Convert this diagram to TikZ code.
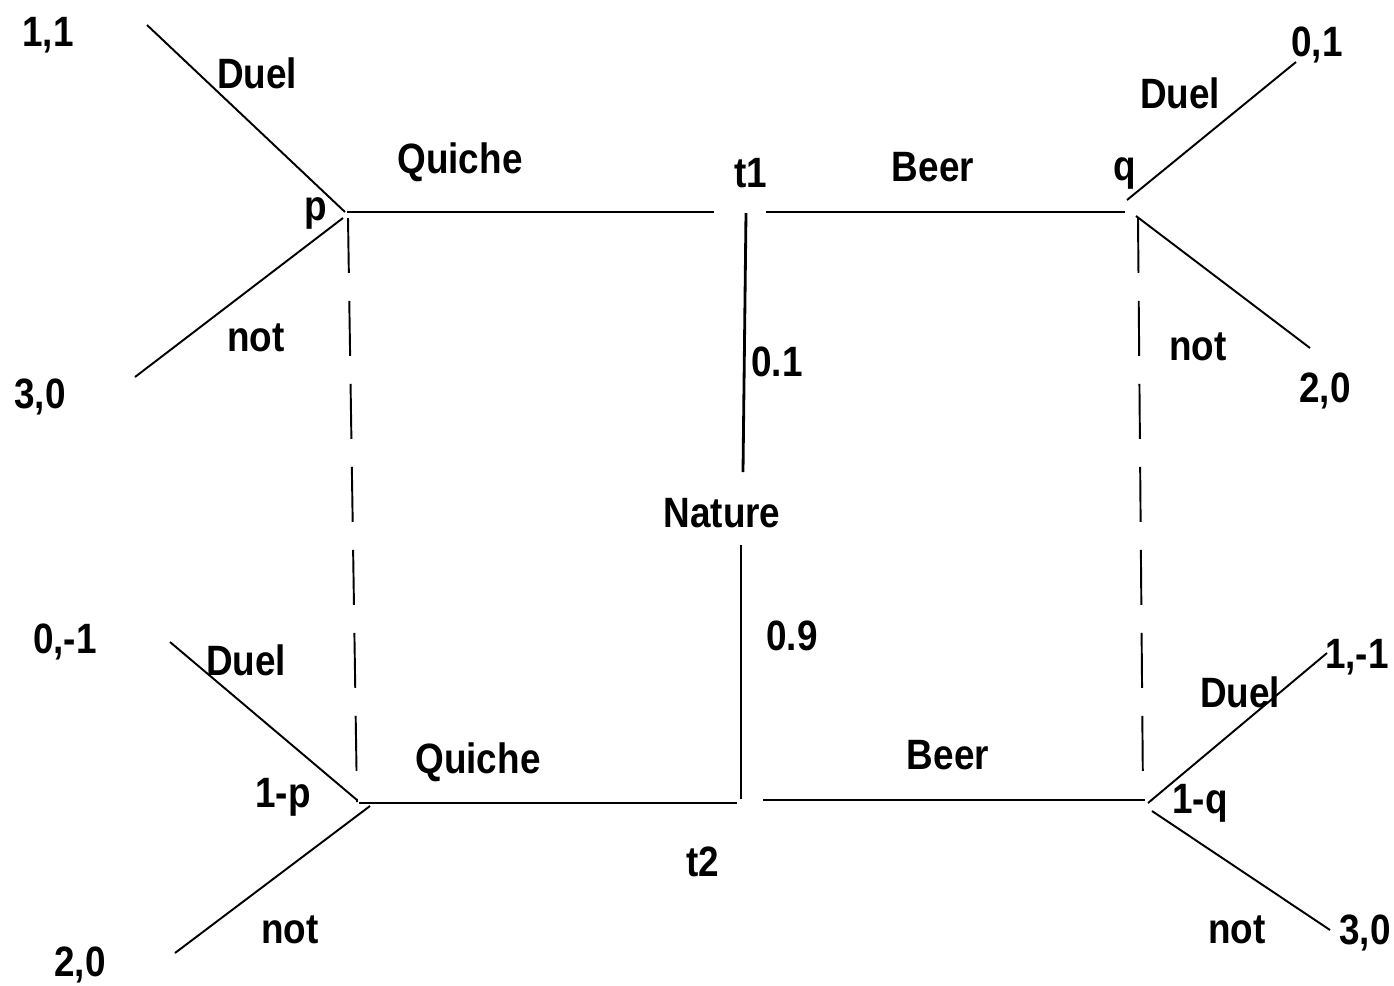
\documentclass[tikz,border=0pt]{standalone}
\usepackage{fontspec}
\setmainfont{Liberation Sans}
\usetikzlibrary{calc, positioning}
\tikzset{
	game/.style={x=0.02cm,y=-0.02cm},
	lbl/.style={font=\bfseries\fontsize{21}{24}\selectfont, inner sep=0pt, yscale=1.15, transform shape},
	edge/.style={line width=1.6pt},
	branch/.style={line width=1.1pt},
	info/.style={line width=1.1pt, dash pattern=on 1.1cm off 0.56cm}
}

\begin{document}
\begin{tikzpicture}[game]
	\useasboundingbox (0,0) rectangle (1394,985);

	% decision points
	\coordinate (p)   at (347,212);
	\coordinate (q)   at (1131,208);
	\coordinate (mp)  at (359,803);
	\coordinate (mq)  at (1148,803);

	% ends of the edges
	\coordinate (t1w) at (714,212);
	\coordinate (t1e) at (766,212);
	\coordinate (t1s) at (746,213);
	\coordinate (nN)  at (743,472);
	\coordinate (nS)  at (741,545);
	\coordinate (t2n) at (741,799);
	\coordinate (t2w) at (737,803);
	\coordinate (t2e) at (763,800);
	\coordinate (qe)  at (1125,212);
	\coordinate (mqe) at (1145,800);

	% leaves
	\coordinate (pD) at (147,25);
	\coordinate (pN) at (135,377);
	\coordinate (qD) at (1296,62);
	\coordinate (qN) at (1310,348);
	\coordinate (mpD) at (170,642);
	\coordinate (mpN) at (175,953);
	\coordinate (mqD) at (1327,653);
	\coordinate (mqN) at (1330,930);

	% labels
	\node[lbl] (t1)  at (751,173) {t1};
	\node[lbl] (t2)  at (703,862) {t2};
	\node[lbl] (nat) at (722,513) {Nature};
	\node[lbl] (pr1) at (777,362) {0.1};
	\node[lbl] (pr2) at (792,636) {0.9};
	\node[lbl] (lp)  at (316,213) {p};
	\node[lbl] (lq)  at (1125,173) {q};
	\node[lbl] (lmp) at (283,797) {1-p};
	\node[lbl] (lmq) at (1200,803) {1-q};
	\node[lbl] (qu1) at (460,162) {Quiche};
	\node[lbl] (qu2) at (478,762) {Quiche};
	\node[lbl] (be1) at (933,167) {Beer};
	\node[lbl] (be2) at (948,755) {Beer};
	\node[lbl] (du1) at (257,73) {Duel};
	\node[lbl] (du2) at (1180,93) {Duel};
	\node[lbl] (du3) at (246,660) {Duel};
	\node[lbl] (du4) at (1240,692) {Duel};
	\node[lbl] (no1) at (256,338) {not};
	\node[lbl] (no2) at (1198,347) {not};
	\node[lbl] (no3) at (290,930) {not};
	\node[lbl] (no4) at (1237,930) {not};

	% payoffs
	\node[lbl] (u1) at (48,35) {1,1};
	\node[lbl] (u2) at (40,397) {3,0};
	\node[lbl] (u3) at (1317,45) {0,1};
	\node[lbl] (u4) at (1325,391) {2,0};
	\node[lbl] (u5) at (65,642) {0,-1};
	\node[lbl] (u6) at (80,965) {2,0};
	\node[lbl] (u7) at (1357,657) {1,-1};
	\node[lbl] (u8) at (1365,933) {3,0};

	% sender moves
	\draw[edge] (t1s) -- (nN);
	\draw[edge] (nS) -- (t2n);
	\draw[edge] (p) -- (t1w);
	\draw[edge] (t1e) -- (qe);
	\draw[edge] (mp) -- (t2w);
	\draw[edge] (t2e) -- (mqe);

	% information sets
	\draw[info] ($(p)+(1,6)$) -- ($(mp)+(-2,-1)$);
	\draw[info] ($(q)+(7,10)$) -- ($(mq)+(-5,-8)$);

	% receiver moves
	\draw[branch] ($(p)+(-2,0)$) -- (pD);
	\draw[branch] ($(p)+(-4,6)$) -- (pN);
	\draw[branch] ($(q)+(-4,-8)$) -- (qD);
	\draw[branch] ($(q)+(5,8)$) -- (qN);
	\draw[branch] ($(mp)+(-2,-3)$) -- (mpD);
	\draw[branch] ($(mp)+(11,3)$) -- (mpN);
	\draw[branch] (mq) -- (mqD);
	\draw[branch] ($(mq)+(4,8)$) -- (mqN);
\end{tikzpicture}
\end{document}
